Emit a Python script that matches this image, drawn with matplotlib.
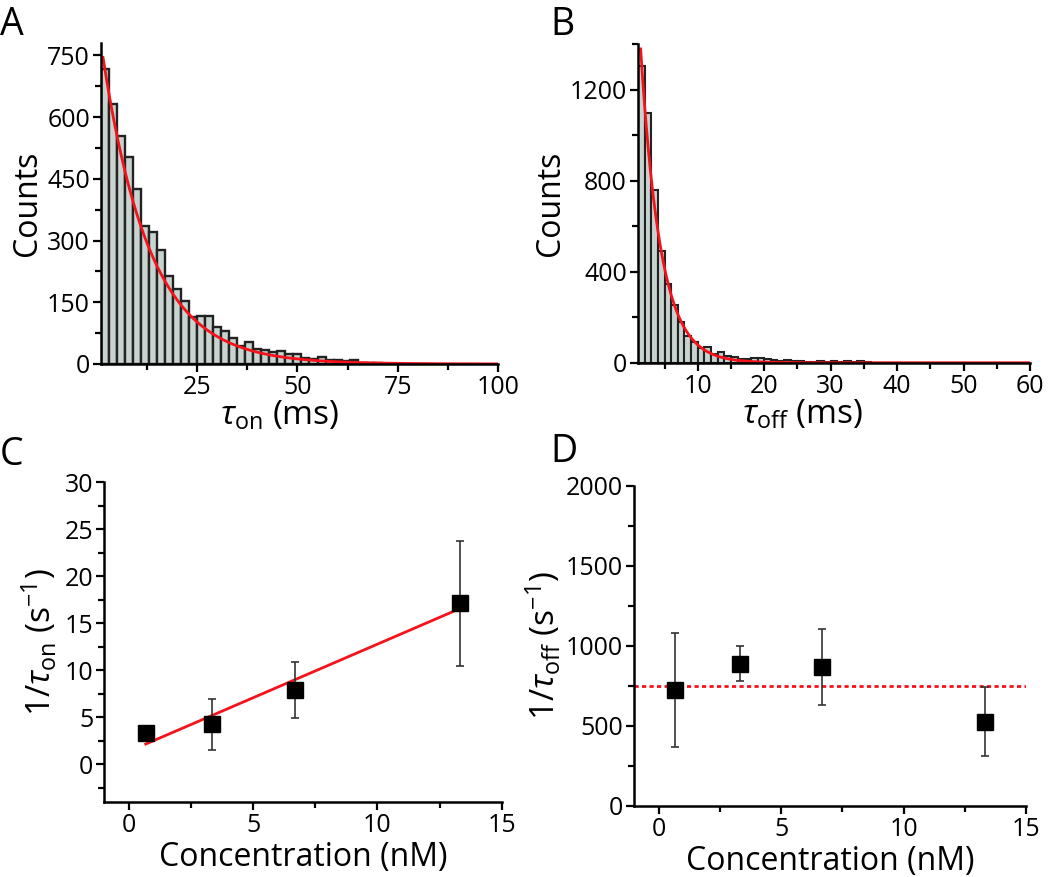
import numpy as np
import matplotlib
matplotlib.use("Agg")
import matplotlib.pyplot as plt
from matplotlib.ticker import MultipleLocator

plt.rcParams["font.family"] = ["Open Sans", "DejaVu Sans"]
plt.rcParams["mathtext.fontset"] = "custom"
plt.rcParams["mathtext.rm"] = "Open Sans"
plt.rcParams["mathtext.it"] = "Open Sans:italic"

# --- DATA ---
# A: tau_on histogram, 2 ms bins starting at 1 ms
A_BIN_START, A_BIN_W = 1, 2
A_COUNTS = [716, 631, 554, 503, 425, 336, 320, 276, 214, 182, 154, 114, 117,
            116, 91, 79, 63, 44, 54, 37, 35, 28, 31, 23, 25, 15, 13, 17, 10,
            9, 8, 9, 3, 2, 2, 1, 1, 1]
A_FIT_X0, A_FIT_AMP, A_FIT_TAU = 1.5, 745, 11.8

# B: tau_off histogram, 1 ms bins starting at 1 ms
B_BIN_START, B_BIN_W = 1, 1
B_COUNTS = [1303, 1098, 761, 493, 346, 255, 181, 118, 93, 66, 71, 38, 49, 29,
            27, 16, 16, 19, 19, 15, 12, 8, 12, 9, 9, 5, 4, 7, 4, 7, 4, 7, 4, 7,
            2]
B_FIT_X0, B_FIT_AMP, B_FIT_TAU = 1.4, 1380, 3.0

# C / D: rates vs concentration
CONC = [0.67, 3.33, 6.67, 13.33]
K_ON = [3.34, 4.22, 7.9, 17.1]
K_ON_ERR = [0.0, 2.74, 3.0, 6.7]
K_ON_SLOPE, K_ON_ICPT = 1.14, 1.37
K_OFF = [723, 887, 865, 525]
K_OFF_ERR = [357, 110, 238, 217]
K_OFF_MEAN = 750

# --- STYLE ---
BAR_FC, BAR_EC = "#c6d3cf", "#222222"
RED = "#f5121a"
TICK_FS, LABEL_FS, PANEL_FS = 18, 23, 27


def style_axes(ax, xmaj, xmin_, ymaj, ymin_):
    for s in ("top", "right"):
        ax.spines[s].set_visible(False)
    for s in ("left", "bottom"):
        ax.spines[s].set_linewidth(1.8)
    ax.xaxis.set_major_locator(MultipleLocator(xmaj))
    ax.xaxis.set_minor_locator(MultipleLocator(xmin_))
    ax.yaxis.set_major_locator(MultipleLocator(ymaj))
    ax.yaxis.set_minor_locator(MultipleLocator(ymin_))
    ax.tick_params(which="major", direction="out", length=6, width=1.6,
                   labelsize=TICK_FS, pad=2)
    ax.tick_params(which="minor", direction="out", length=4, width=1.6)


fig = plt.figure(figsize=(10.5, 8.77), dpi=100)

# ---- A ----
axA = fig.add_axes([0.0962, 0.585, 0.378, 0.366])
a_left = A_BIN_START + A_BIN_W * np.arange(len(A_COUNTS))
axA.bar(a_left, A_COUNTS, width=A_BIN_W, align="edge", color=BAR_FC,
        edgecolor=BAR_EC, linewidth=1.7)
xa = np.linspace(A_FIT_X0, 100, 400)
axA.plot(xa, A_FIT_AMP * np.exp(-(xa - A_FIT_X0) / A_FIT_TAU), color=RED, lw=2)
axA.set_xlim(1, 100)
axA.set_ylim(0, 780)
style_axes(axA, 25, 12.5, 150, 75)
axA.set_xticks([25, 50, 75, 100])
axA.set_ylabel("Counts", fontsize=LABEL_FS, labelpad=2)
axA.set_xlabel(r"$\tau_{\mathrm{on}}$ (ms)", fontsize=LABEL_FS + 1)
axA.xaxis.set_label_coords(0.45, -0.11)

# ---- B ----
axB = fig.add_axes([0.6076, 0.5864, 0.3733, 0.363])
b_left = B_BIN_START + B_BIN_W * np.arange(len(B_COUNTS))
axB.bar(b_left, B_COUNTS, width=B_BIN_W, align="edge", color=BAR_FC,
        edgecolor=BAR_EC, linewidth=1.5)
xb = np.linspace(B_FIT_X0, 60, 400)
axB.plot(xb, B_FIT_AMP * np.exp(-(xb - B_FIT_X0) / B_FIT_TAU), color=RED, lw=2)
axB.set_xlim(1, 60)
axB.set_ylim(0, 1400)
style_axes(axB, 10, 5, 400, 200)
axB.set_xticks([10, 20, 30, 40, 50, 60])
axB.set_ylabel("Counts", fontsize=LABEL_FS, labelpad=2)
axB.set_xlabel(r"$\tau_{\mathrm{off}}$ (ms)", fontsize=LABEL_FS + 1)
axB.xaxis.set_label_coords(0.42, -0.11)

# ---- C ----
axC = fig.add_axes([0.0993, 0.0859, 0.3785, 0.3642])
xc = np.array([CONC[0], CONC[-1]])
axC.plot(xc, K_ON_SLOPE * xc + K_ON_ICPT, color=RED, lw=2, zorder=2)
axC.errorbar(CONC, K_ON, yerr=K_ON_ERR, fmt="s", color="black", ms=11,
             ecolor="#333333", elinewidth=1.2, capsize=3, capthick=1.2, zorder=3)
axC.set_xlim(-1, 15)
axC.set_ylim(-4, 30)
style_axes(axC, 5, 2.5, 5, 2.5)
axC.set_xlabel("Concentration (nM)", fontsize=LABEL_FS, labelpad=2)
axC.set_ylabel(r"1/$\tau_{\mathrm{on}}$ (s$^{-1}$)", fontsize=LABEL_FS + 1, labelpad=4)

# ---- D ----
axD = fig.add_axes([0.6041, 0.0813, 0.373, 0.3649])
axD.axhline(K_OFF_MEAN, color=RED, lw=2, ls=(0, (1.5, 1.2)), zorder=2)
axD.errorbar(CONC, K_OFF, yerr=K_OFF_ERR, fmt="s", color="black", ms=11,
             ecolor="#333333", elinewidth=1.2, capsize=3, capthick=1.2, zorder=3)
axD.set_xlim(-1, 15)
axD.set_ylim(0, 2000)
style_axes(axD, 5, 2.5, 500, 250)
axD.set_xlabel("Concentration (nM)", fontsize=LABEL_FS, labelpad=2)
axD.set_ylabel(r"1/$\tau_{\mathrm{off}}$ (s$^{-1}$)", fontsize=LABEL_FS + 1, labelpad=2)

# panel letters
for lab, x, y in [("A", 0.0, 0.993), ("B", 0.524, 0.993),
                  ("C", 0.0, 0.503), ("D", 0.524, 0.506)]:
    fig.text(x, y, lab, fontsize=PANEL_FS, ha="left", va="top")

fig.savefig("out.png", dpi=100)
